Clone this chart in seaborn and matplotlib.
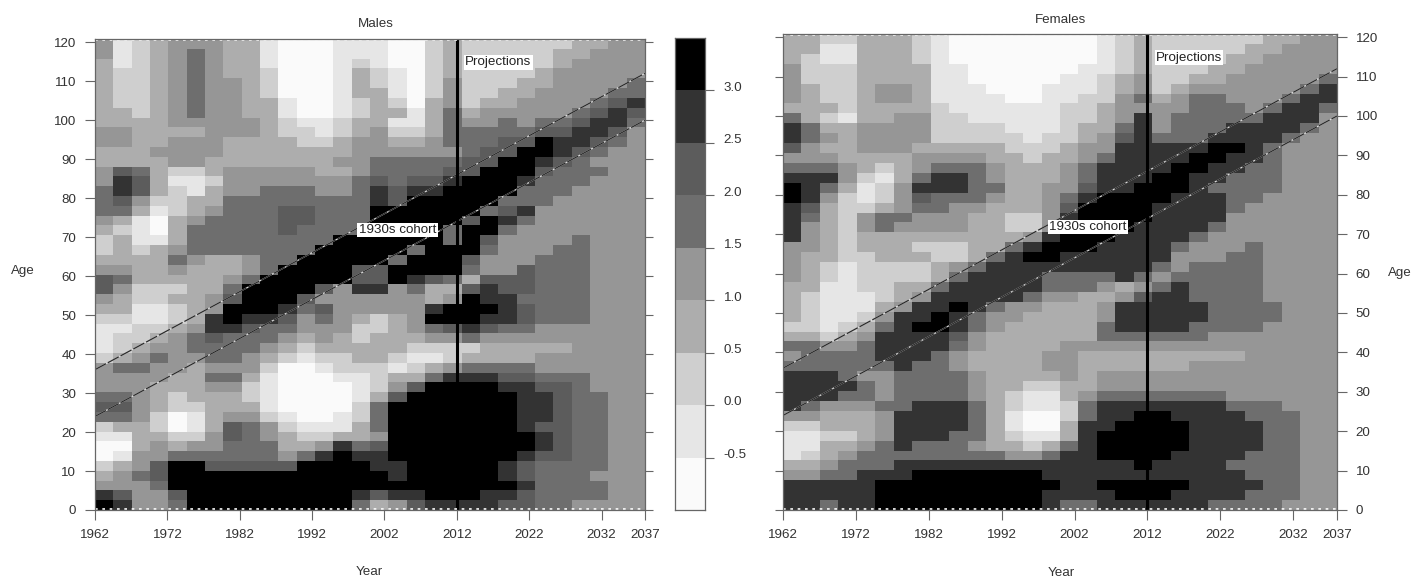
import matplotlib
matplotlib.use("Agg")
import matplotlib.pyplot as plt
import numpy as np
import seaborn as sns
from matplotlib.colors import ListedColormap
from matplotlib.transforms import ScaledTranslation

# Contour class per cell, one digit for each class of the legend (0 lightest, 8 black)
# rows run from age 120 down to age 0, columns from 1962 to 2037
males_rows = [
    "4123444331 0001110023 2222223344",
    "4123454331 0001110023 2222233444",
    "3123454331 0001210023 2222234444",
    "3223454332 0001321023 2222344444",
    "3223454432 0001321024 2223344445",
    "3223454432 0001331024 2233444455",
    "3223454433 1001232034 2334444567",
    "3323454433 1001233135 3444445676",
    "3333444443 2112331135 4454556775",
    "4433334443 2212342235 5555667764",
    "4433444333 3223443345 5566877654",
    "3334444333 3333444444 5668876544",
    "3333443333 3334455555 6688765444",
    "4653223444 4433455556 6888655544",
    "4763112444 4444565667 8887555444",
    "5763213445 5544576778 8885554444",
    "5642233555 5555576888 8855544444",
    "5531234555 6655588888 8567444444",
    "4310345555 6655588888 6875444444",
    "3210355555 6555588885 8854444444",
    "2311355555 5558888885 8644445444",
    "2323455555 5588888588 8544455444",
    "3333543345 5888885888 6444555444",
    "4433433345 8888668888 5446555444",
    "6533333458 8888668765 3666555444",
    "6422233588 8864774533 6766555444",
    "4322334688 8644444434 8775555444",
    "3311234888 7564444478 8876555444",
    "2211237877 6454323488 8776555444",
    "1122347765 5444223456 7655444444",
    "1223456555 4343233344 5444444444",
    "1234455554 3233333222 2333334444",
    "2345445543 2122332112 3333444444",
    "4554434442 0012221234 5555444444",
    "4444335531 0001123357 7766555444",
    "4443334421 0000124688 8877665444",
    "5543233321 0000136888 8887765544",
    "6643223331 0000258888 8887765544",
    "5542013442 1001258888 8887765544",
    "2332013654 2111358888 8887665544",
    "1133224654 3223348888 8888765544",
    "0034344555 3347568888 8888765544",
    "0144555555 4578778888 8887665544",
    "2346886666 6888877888 8876555544",
    "3456888888 8888887888 8876555444",
    "4445888888 8888888888 8887555544",
    "7644688888 8888767788 8776555544",
    "8744588888 8888534677 7766554444",
]

females_rows = [
    "3322333210 0000000123 2222223344",
    "3311333210 0000000123 2222233444",
    "3211333210 0000000123 2222334444",
    "4222333311 0000001123 2223344444",
    "4222333311 0000011234 2233444445",
    "4322344311 1000111234 2344444457",
    "4322344311 1100112245 3455444577",
    "3332333321 1111122344 4455545775",
    "5321334422 1111122347 4555557774",
    "7533444422 2211123357 4555777754",
    "7543444422 2221223467 5557777544",
    "6433444333 3322234477 7778875444",
    "4443333444 4332334577 7788775444",
    "5554323455 5433345777 7887755444",
    "7774213577 5433345777 8877555444",
    "8753124777 5533446778 8875555444",
    "8742124655 5433457888 8777554444",
    "7632234554 4333468888 7777544444",
    "7532455444 3322478888 7777444444",
    "7432454444 3322478887 7775444444",
    "7432333333 3334788877 7754444444",
    "4432333222 3357888777 7544454444",
    "4332233322 3578877777 7444554444",
    "4321222234 5777777777 5455554444",
    "4321222235 7777555575 4555554444",
    "3311223357 7777555434 5755554444",
    "3211123477 7775443346 7755554444",
    "3211134778 7544333477 7775555444",
    "3211247787 5443333477 7775555444",
    "2212357887 5433333577 7755554444",
    "3323477776 4333333555 5554444444",
    "5544577775 4333344444 4444444444",
    "4555577754 3333443333 3333344444",
    "5555557554 3333443333 3344444444",
    "7775445555 4333343444 4444444444",
    "7777545555 4332233444 4444444444",
    "7775545555 4321134555 5555444444",
    "7544455777 5321125777 7777555444",
    "4433347777 5310025778 8777755544",
    "2233347777 5310037788 8877775544",
    "1122347775 5321137888 8877775544",
    "1133457555 4332357888 8877775544",
    "1234555555 5544577888 8777755544",
    "3345557777 7777777778 7777555544",
    "4455777888 8888777777 7777755544",
    "7777788888 8888877888 8877775544",
    "7777788888 8888777788 8777755544",
    "7757788888 8888755777 7775555444",
]

level_colors = ["#fafafa", "#e6e6e6", "#cfcfcf", "#adadad", "#969696",
                "#6e6e6e", "#5c5c5c", "#333333", "#000000"]
legend_labels = ["3.0", "2.5", "2.0", "1.5", "1.0", "0.5", "0.0", "-0.5"]
legend_levels = [8, 7, 6, 5, 4, 3, 2, 1, 0]

year_ticks = [1962, 1972, 1982, 1992, 2002, 2012, 2022, 2032, 2038]
year_labels = ["1962", "1972", "1982", "1992", "2002", "2012", "2022", "2032", "2037"]
age_ticks = [0, 10, 20, 30, 40, 50, 60, 70, 80, 90, 100, 110, 120]

cohort_years = [1962, 2038]
cohort_upper = [36, 112]
cohort_lower = [24, 100]
projection_start = 2012

sns.set_theme(style="white")
plt.rcParams["font.family"] = ["Liberation Sans", "DejaVu Sans"]
FS = 9.6
TEXT = "#333333"
EDGE = "#666666"

W, H = 1413, 578
cmap = ListedColormap(level_colors)


def parse(rows):
    return np.array([[int(c) for c in r.replace(" ", "")] for r in rows])


def px_axes(left, top, right, bottom):
    return fig.add_axes([left / W, 1 - bottom / H, (right - left) / W, (bottom - top) / H])


def to_x(year, ncol):
    return (np.asarray(year) - 1962) / 76 * ncol


def to_y(age, nrow):
    return (120.8 - np.asarray(age)) / 120.8 * nrow


def panel(rows, rect, side):
    grid = parse(rows)
    nrow, ncol = grid.shape
    ax = px_axes(*rect)
    sns.heatmap(grid, cmap=cmap, vmin=-0.5, vmax=8.5, cbar=False, ax=ax,
                xticklabels=False, yticklabels=False)
    ax.set_xticks(to_x(year_ticks, ncol))
    ax.set_xticklabels(year_labels, color=TEXT, fontsize=FS, rotation=0)
    ax.set_yticks(to_y(age_ticks, nrow))
    ax.set_yticklabels([str(a) for a in age_ticks], color=TEXT, fontsize=FS, rotation=0)
    ax.tick_params(axis="x", length=7, width=0.8, color=EDGE, pad=7, bottom=True)
    ax.tick_params(axis="y", length=7, width=0.8, color=EDGE, pad=6.5,
                   left=side == "left", right=side == "right",
                   labelleft=side == "left", labelright=side == "right")
    # short unlabelled ticks on the other side
    other = ax.secondary_yaxis("right" if side == "left" else "left")
    other.set_yticks(to_y(age_ticks, nrow))
    other.set_yticklabels([])
    other.tick_params(length=5.5, width=0.8, color=EDGE)
    other.spines[:].set_visible(False)
    for s in ax.spines.values():
        s.set_visible(True)
        s.set_color(EDGE)
        s.set_linewidth(0.9)

    xs = to_x(cohort_years, ncol)
    for ages in (cohort_upper, cohort_lower):
        ys = to_y(ages, nrow)
        ax.plot(xs, ys, color="#dddddd", lw=0.9)
        ax.plot(xs, ys, color="#2a2a2a", lw=0.9, dashes=(10, 1.6))
    ax.axvline(to_x(projection_start, ncol), color="black", lw=2.2)

    # white specks along the top and bottom edge of the contour
    for y in (nrow - 0.06, 0.06):
        ax.axhline(y, color="white", lw=1.2, dashes=(1.6, 2.8))

    box = dict(facecolor="white", edgecolor="none", pad=1.0)
    ax.text(to_x(2003.8, ncol), to_y(71.8, nrow), "1930s cohort", ha="center", va="center",
            fontsize=FS, color="#222222", bbox=box)
    ax.text(to_x(2017.7, ncol), to_y(114.8, nrow), "Projections", ha="center", va="center",
            fontsize=FS, color="#222222", bbox=box)
    return ax


fig = plt.figure(figsize=(W / 100, H / 100), dpi=100, facecolor="white")

ax_m = panel(males_rows, (95, 39, 645, 510), "left")
ax_f = panel(females_rows, (783, 34, 1337, 510), "right")

fig.text(376 / W, 1 - 24 / H, "Males", ha="center", va="center", color=TEXT, fontsize=FS)
fig.text(1061 / W, 1 - 20 / H, "Females", ha="center", va="center", color=TEXT, fontsize=FS)
fig.text(369 / W, 1 - 572 / H, "Year", ha="center", va="center", color=TEXT, fontsize=FS)
fig.text(1061 / W, 1 - 573 / H, "Year", ha="center", va="center", color=TEXT, fontsize=FS)
fig.text(23 / W, 1 - 271 / H, "Age", ha="center", va="center", color=TEXT, fontsize=FS)
fig.text(1400 / W, 1 - 273 / H, "Age", ha="center", va="center", color=TEXT, fontsize=FS)

# legend as a one column heatmap
ax_l = px_axes(675, 38, 705, 510)
sns.heatmap(np.array(legend_levels).reshape(-1, 1), cmap=cmap, vmin=-0.5, vmax=8.5,
            cbar=False, ax=ax_l, xticklabels=False, yticklabels=False)
ax_l.set_yticks(np.arange(1, len(legend_levels)))
ax_l.set_yticklabels(legend_labels, color=TEXT, fontsize=FS, rotation=0)
ax_l.yaxis.tick_right()
ax_l.tick_params(axis="y", length=6.5, width=0.8, color=EDGE, pad=7)
for lab in ax_l.get_yticklabels():
    lab.set_transform(lab.get_transform() + ScaledTranslation(0, 3 / 72, fig.dpi_scale_trans))
for s in ax_l.spines.values():
    s.set_visible(True)
    s.set_color(EDGE)
    s.set_linewidth(0.9)

plt.savefig("out.png", dpi=100)
